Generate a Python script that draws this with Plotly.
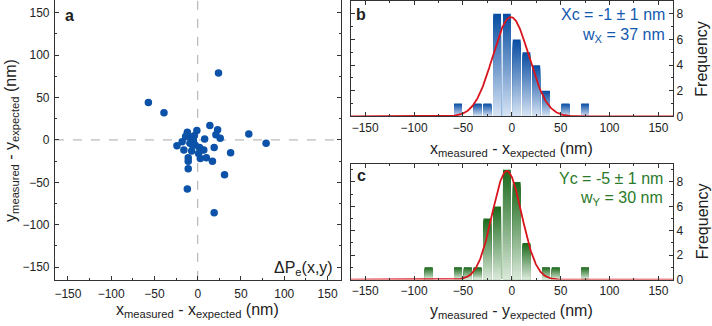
import numpy as np
import plotly.graph_objects as go

# ---------------- data ----------------
# panel a: scatter of position errors (nm)
dx = [24, -57, -39, 14, -1, 23, -12, 59, 79, 21, 26, 8, -24, -18, -16, 38, 31, -12, 19,
      19, -11, -11, -11, 17, 10, 3, -5, -6, -7, 2, 4, 7, -8, -4, -14, -9, -3, 1]
dy = [79, 44, 32, 17, 11, 12, 9, 7, -4, 6, 2, 1, -7, -2, -12, -15, -41, -58, -86,
      -9, -34, -25, -21, -25, -21, -22, -1, -6, -13, -9, -12, -12, 3, 5, 4, -4, -6, -16]

# panel b: histogram of x errors (bin centres, counts)
bins_x = [-55, -35, -25, -15, -5, 5, 15, 25, 35, 55, 75]
counts_x = [1, 1, 1, 8, 8, 6, 5, 4, 2, 1, 1]
# panel c: histogram of y errors
bins_y = [-85, -55, -45, -35, -25, -15, -5, 5, 15, 35, 45, 75]
counts_y = [1, 1, 1, 1, 5, 6, 9, 8, 3, 1, 1, 1]

# Gaussian fit parameters (centre, width w = 2 sigma, peak height)
fit_x = dict(xc=-1, w=37, h=7.75)
fit_y = dict(xc=-5, w=30, h=8.9)

ticks_nm = [-150, -100, -50, 0, 50, 100, 150]
ticks_freq = [0, 2, 4, 6, 8]

# ---------------- style ----------------
W, H = 712, 326
FONT = "Liberation Sans"
AX = "#333333"
BLUE = "#0b52a8"
RED = "#d8141c"

def px(v):
    return v / W

def py(v):
    return 1 - v / H

fig = go.Figure()

# panel a
fig.add_trace(go.Scatter(x=dx, y=dy, mode="markers", xaxis="x", yaxis="y",
                         marker=dict(color=BLUE, size=7.5, line=dict(width=0)),
                         showlegend=False))

def hex2rgb(h):
    h = h.lstrip("#")
    return [int(h[i:i + 2], 16) for i in (0, 2, 4)]

def gradient_bars(xs, cs, dark, light, xa, ya, K=40):
    d = np.array(hex2rgb(dark), float)
    l = np.array(hex2rgb(light), float)
    cs = np.array(cs, float)
    for k in range(K):
        frac = (K - k) / K           # height fraction of this layer
        t = k / (K - 1)               # 0 -> dark (top), 1 -> light (bottom)
        c = d + (l - d) * t
        col = "rgb(%d,%d,%d)" % tuple(c.round())
        fig.add_trace(go.Bar(x=xs, y=cs * frac, xaxis=xa, yaxis=ya,
                             marker=dict(color=col, line=dict(width=0)),
                             width=8.0, showlegend=False, hoverinfo="skip"))

gradient_bars(bins_x, counts_x, "#0a4ea3", "#d6e3f3", "x2", "y2")
gradient_bars(bins_y, counts_y, "#1d6a1d", "#d9e8d9", "x3", "y3")

xfit = np.linspace(-165, 165, 661)
for p, xa, ya in [(fit_x, "x2", "y2"), (fit_y, "x3", "y3")]:
    yfit = p["h"] * np.exp(-2 * (xfit - p["xc"]) ** 2 / p["w"] ** 2)
    fig.add_trace(go.Scatter(x=xfit, y=yfit, mode="lines", xaxis=xa, yaxis=ya,
                             line=dict(color=RED, width=1.8), showlegend=False,
                             cliponaxis=False))

common = dict(showline=True, linecolor=AX, linewidth=1, ticks="inside",
              ticklen=4, tickcolor=AX, tickwidth=1, showgrid=False, zeroline=False,
              tickfont=dict(family=FONT, size=12, color="#222"),
              minor=dict(ticks="inside", ticklen=2, tickcolor=AX, dtick=25))

xa_dom = [px(54), px(340)]
xb_dom = [px(350), px(673)]
minor_f = dict(ticks="inside", ticklen=2, tickcolor=AX, dtick=1)

fig.update_layout(
    width=W, height=H, margin=dict(l=0, r=0, t=0, b=0),
    paper_bgcolor="white", plot_bgcolor="white",
    barmode="overlay", showlegend=False,
    xaxis=dict(domain=xa_dom, anchor="y", range=[-165, 165], tickvals=ticks_nm,
               mirror=False, ticklabelstandoff=3, **common),
    yaxis=dict(domain=[py(286), 1], anchor="x", range=[-165, 165], tickvals=ticks_nm,
               mirror="ticks", ticklabelstandoff=2, **common),
    xaxis2=dict(domain=xb_dom, anchor="y2", range=[-165, 165], tickvals=ticks_nm,
                mirror="ticks", **common),
    yaxis2=dict(domain=[py(119), py(1)], anchor="x2", range=[0, 9], side="right",
                tickvals=ticks_freq, mirror="ticks", **{**common, "minor": minor_f}),
    xaxis3=dict(domain=xb_dom, anchor="y3", range=[-165, 165], tickvals=ticks_nm,
                mirror="ticks", **common),
    yaxis3=dict(domain=[py(285.7), py(167.3)], anchor="x3", range=[0, 9.5], side="right",
                tickvals=ticks_freq, mirror="ticks", **{**common, "minor": minor_f}),
)

# dashed zero lines in panel a
dash = dict(color="#aaaaaa", width=1, dash="dash")
fig.add_shape(type="line", xref="x", yref="y domain", x0=0, x1=0, y0=0, y1=1, line=dash, layer="below")
fig.add_shape(type="line", xref="x domain", yref="y", x0=0, x1=1, y0=0, y1=0, line=dash, layer="below")

def ann(text, x, y, size=16, color="#222", xanchor="center", yanchor="middle", angle=0, bold=False):
    if bold:
        text = "<b>%s</b>" % text
    fig.add_annotation(text=text, xref="paper", yref="paper", x=px(x), y=py(y),
                       xanchor=xanchor, yanchor=yanchor, showarrow=False, textangle=angle,
                       font=dict(family=FONT, size=size, color=color))

xt = "x<sub>measured</sub> - x<sub>expected</sub> (nm)"
yt = "y<sub>measured</sub> - y<sub>expected</sub> (nm)"
ann(xt, 197, 317)
ann(yt, 11, 143, angle=-90)
ann(xt, 511, 153)
ann(yt, 511, 318)
ann("Frequency", 702, 60, angle=-90)
ann("Frequency", 702, 226, angle=-90)
ann("a", 69, 16, bold=True)
ann("b", 361, 15, bold=True)
ann("c", 361, 179, bold=True)
ann("ΔP<sub>e</sub>(x,y)", 334, 274, xanchor="right")
ann("Xc = -1 ± 1 nm", 667, 15, color="#1259b0", xanchor="right")
ann("w<sub>X</sub> = 37 nm", 667, 36, color="#1259b0", xanchor="right")
ann("Yc = -5 ± 1 nm", 665, 182, color="#2a7a2a", xanchor="right")
ann("w<sub>Y</sub> = 30 nm", 665, 203, color="#2a7a2a", xanchor="right")

fig.write_html("out.html")
